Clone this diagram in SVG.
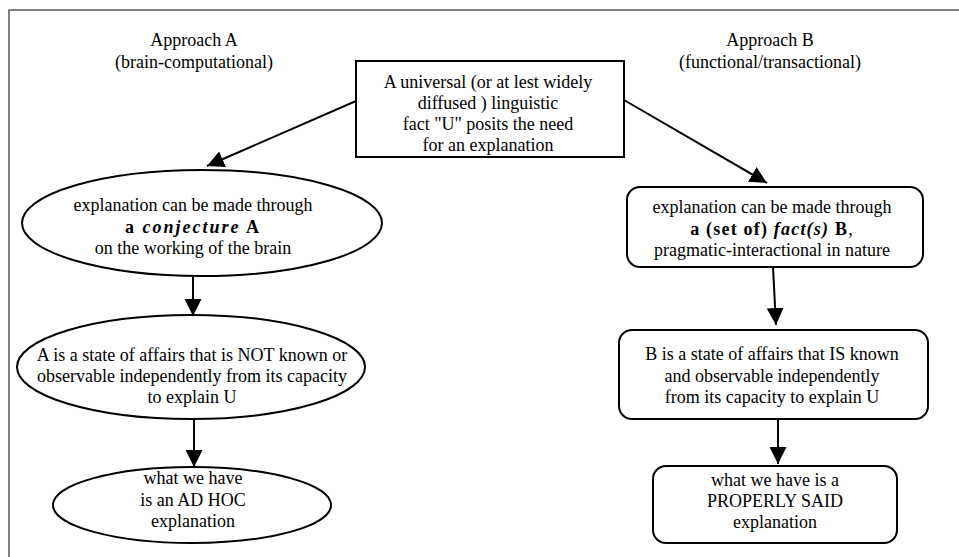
<svg xmlns="http://www.w3.org/2000/svg" width="959" height="557" viewBox="0 0 959 557">
<defs>
<style>
.t{font-family:"Liberation Serif","Times New Roman",serif;font-size:18px;fill:#000;text-anchor:middle}
.b{font-weight:bold}
.bi{font-weight:bold;font-style:italic}
.n{fill:#fff;stroke:#000;stroke-width:2}
.c{stroke:#000;stroke-width:2;fill:none;marker-end:url(#ah)}
</style>
<marker id="ah" markerUnits="userSpaceOnUse" markerWidth="18" markerHeight="17" refX="17" refY="8.5" orient="auto">
<path d="M0,0 L17,8.5 L0,17 z" fill="#000"/>
</marker>
</defs>
<rect x="0" y="0" width="959" height="557" fill="#fff"/>
<path d="M9,557 L9,10 L959,10" fill="none" stroke="#555" stroke-width="1.5"/>

<g id="labelA">
<text class="t" x="194" y="46">Approach A</text>
<text class="t" x="194" y="68">(brain-computational)</text>
</g>
<g id="labelB">
<text class="t" x="770" y="46">Approach B</text>
<text class="t" x="770" y="68">(functional/transactional)</text>
</g>

<g id="connectors">
<line class="c" x1="356" y1="101" x2="207" y2="166"/>
<line class="c" x1="624" y1="100" x2="767" y2="183"/>
<line class="c" x1="193" y1="277" x2="193" y2="316"/>
<line class="c" x1="194" y1="419" x2="194" y2="467"/>
<line class="c" x1="773" y1="267" x2="776" y2="325"/>
<line class="c" x1="778" y1="419" x2="778" y2="464"/>
</g>

<g id="fact">
<rect class="n" x="356" y="61" width="268" height="96"/>
<text class="t" x="488" y="88">A universal (or at lest widely</text>
<text class="t" x="488" y="109">diffused ) linguistic</text>
<text class="t" x="488" y="130">fact "U" posits the need</text>
<text class="t" x="488" y="151">for an explanation</text>
</g>

<g id="conjectureA">
<ellipse class="n" cx="202" cy="223" rx="180" ry="53"/>
<text class="t" x="193" y="211">explanation can be made through</text>
<text class="t" x="193" y="233" letter-spacing="2"><tspan class="b">a </tspan><tspan class="bi">conjecture</tspan><tspan class="b"> A</tspan></text>
<text class="t" x="193" y="254">on the working of the brain</text>
</g>

<g id="notKnown">
<ellipse class="n" cx="191" cy="367" rx="174" ry="52"/>
<text class="t" x="192" y="361">A is a state of affairs that is NOT known or</text>
<text class="t" x="192" y="382">observable independently from its capacity</text>
<text class="t" x="192" y="403">to explain U</text>
</g>

<g id="adHoc">
<ellipse class="n" cx="192" cy="505" rx="139" ry="38"/>
<text class="t" x="193" y="484">what we have</text>
<text class="t" x="193" y="506">is an AD HOC</text>
<text class="t" x="193" y="527">explanation</text>
</g>

<g id="factsB">
<rect class="n" x="627" y="187" width="296" height="80" rx="13"/>
<text class="t" x="772" y="213">explanation can be made through</text>
<text class="t" x="772" y="235" letter-spacing="1.2"><tspan class="b">a (set of) </tspan><tspan class="bi">fact(s)</tspan><tspan class="b"> B</tspan>,</text>
<text class="t" x="772" y="256">pragmatic-interactional in nature</text>
</g>

<g id="isKnown">
<rect class="n" x="619" y="330" width="309" height="89" rx="13"/>
<text class="t" x="772" y="360">B is a state of affairs that IS known</text>
<text class="t" x="772" y="382">and observable independently</text>
<text class="t" x="772" y="403">from its capacity to explain U</text>
</g>

<g id="properly">
<rect class="n" x="653" y="466" width="244" height="77" rx="13"/>
<text class="t" x="775" y="486">what we have is a</text>
<text class="t" x="775" y="507">PROPERLY SAID</text>
<text class="t" x="775" y="528">explanation</text>
</g>
</svg>
